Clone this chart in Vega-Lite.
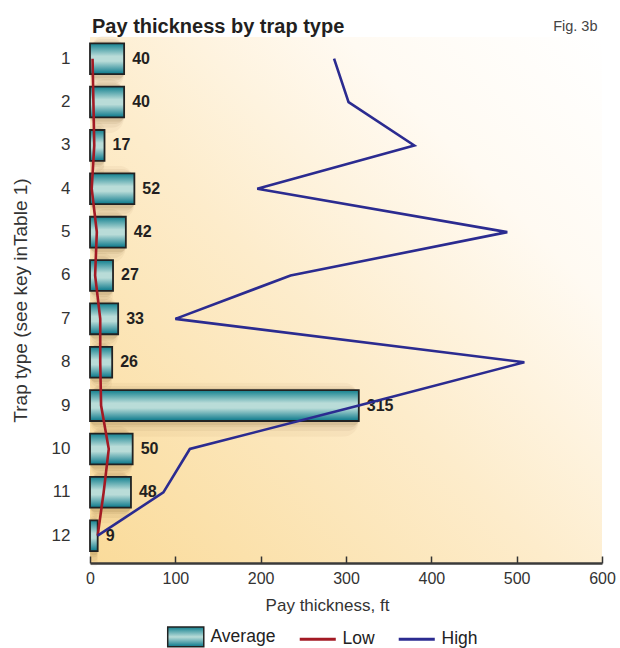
{
  "$schema": "https://vega.github.io/schema/vega-lite/v6.json",
  "width": 512,
  "height": 526,
  "autosize": {"type": "none"},
  "padding": {"left": 90, "top": 37, "right": 18, "bottom": 85},
  "background": "white",
  "view": {
    "stroke": null,
    "fill": {
      "gradient": "linear",
      "x1": 0, "y1": 1, "x2": 1, "y2": 0,
      "stops": [
        {"offset": 0, "color": "#fadb9a"},
        {"offset": 0.45, "color": "#fdeccb"},
        {"offset": 0.75, "color": "#fffaf2"},
        {"offset": 1, "color": "#ffffff"}
      ]
    }
  },
  "title": {
    "text": "Pay thickness by trap type",
    "anchor": "start",
    "frame": "group",
    "font": "Liberation Sans",
    "fontSize": 20,
    "fontWeight": "bold",
    "color": "#231f20",
    "offset": -19,
    "dx": 2
  },
  "data": {
    "values": [
      {"trap": 1, "Average": 40, "Low": 3, "High": 286},
      {"trap": 2, "Average": 40, "Low": 4, "High": 303},
      {"trap": 3, "Average": 17, "Low": 5, "High": 380},
      {"trap": 4, "Average": 52, "Low": 2, "High": 196},
      {"trap": 5, "Average": 42, "Low": 8, "High": 489},
      {"trap": 6, "Average": 27, "Low": 6, "High": 235},
      {"trap": 7, "Average": 33, "Low": 12, "High": 100},
      {"trap": 8, "Average": 26, "Low": 12, "High": 509},
      {"trap": 9, "Average": 315, "Low": 13, "High": 315},
      {"trap": 10, "Average": 50, "Low": 22, "High": 117},
      {"trap": 11, "Average": 48, "Low": 16, "High": 86},
      {"trap": 12, "Average": 9, "Low": 9, "High": 9}
    ]
  },
  "encoding": {
    "y": {
      "field": "trap",
      "type": "ordinal",
      "scale": {"paddingInner": 0, "paddingOuter": 0.065, "align": 0},
      "axis": {
        "title": "Trap type (see key inTable 1)",
        "labelAngle": 0,
        "ticks": false,
        "domain": false,
        "grid": false,
        "labelPadding": 20,
        "labelFont": "Liberation Sans",
        "labelFontSize": 17,
        "labelColor": "#333333",
        "titleFont": "Liberation Sans",
        "titleFontSize": 19,
        "titleFontWeight": "normal",
        "titleColor": "#333333",
        "titlePadding": 21
      }
    }
  },
  "layer": [
    {
      "mark": {"type": "bar", "fill": "#6b4a1e", "opacity": 0.045, "cornerRadius": 16, "height": {"band": 1.25}, "x2Offset": 30, "yOffset": 4},
      "encoding": {"x": {"field": "Average", "type": "quantitative", "scale": {"domain": [0, 600], "nice": false}, "axis": null}}
    },
    {
      "mark": {"type": "bar", "fill": "#6b4a1e", "opacity": 0.06, "cornerRadius": 12, "height": {"band": 1.05}, "x2Offset": 20, "yOffset": 3},
      "encoding": {"x": {"field": "Average", "type": "quantitative", "axis": null}}
    },
    {
      "mark": {"type": "bar", "fill": "#6b4a1e", "opacity": 0.08, "cornerRadius": 9, "height": {"band": 0.92}, "x2Offset": 13, "yOffset": 2},
      "encoding": {"x": {"field": "Average", "type": "quantitative", "axis": null}}
    },
    {
      "mark": {"type": "bar", "fill": "#6b4a1e", "opacity": 0.1, "cornerRadius": 6, "height": {"band": 0.82}, "x2Offset": 7, "yOffset": 2},
      "encoding": {"x": {"field": "Average", "type": "quantitative", "axis": null}}
    },
    {
      "mark": {
        "type": "bar",
        "height": {"band": 0.71},
        "strokeWidth": 1.8,
        "fill": {
          "gradient": "linear",
          "x1": 0, "y1": 0, "x2": 0, "y2": 1,
          "stops": [
            {"offset": 0, "color": "#12808f"},
            {"offset": 0.42, "color": "#b9dcd8"},
            {"offset": 0.58, "color": "#b9dcd8"},
            {"offset": 1, "color": "#08778a"}
          ]
        }
      },
      "encoding": {
        "x": {
          "field": "Average",
          "type": "quantitative",
          "axis": {
            "orient": "bottom",
            "title": "Pay thickness, ft",
            "values": [0, 100, 200, 300, 400, 500, 600],
            "grid": false,
            "labelFlush": false,
            "tickSize": -7,
            "tickWidth": 1.5,
            "tickColor": "#333333",
            "domainColor": "#3a3a3a",
            "domainWidth": 2.5,
            "labelPadding": 14,
            "labelFont": "Liberation Sans",
            "labelFontSize": 16,
            "labelColor": "#333333",
            "titleFont": "Liberation Sans",
            "titleFontSize": 17,
            "titleFontWeight": "normal",
            "titleColor": "#333333",
            "titlePadding": 11,
            "titleX": 237
          }
        },
        "stroke": {"datum": "Average"}
      }
    },
    {
      "mark": {
        "type": "text",
        "align": "left",
        "baseline": "middle",
        "dx": 8,
        "font": "Liberation Sans",
        "fontSize": 16,
        "fontWeight": "bold",
        "color": "#231f20"
      },
      "encoding": {
        "x": {
          "field": "Average",
          "type": "quantitative",
          "axis": {
            "orient": "top",
            "title": "Fig. 3b",
            "labels": false,
            "ticks": false,
            "domain": false,
            "grid": false,
            "titleX": 507,
            "titleY": -7,
            "titleAlign": "right",
            "titleBaseline": "alphabetic",
            "titleAnchor": "end",
            "titleFont": "Liberation Sans",
            "titleFontSize": 14.5,
            "titleFontWeight": "normal",
            "titleColor": "#444444"
          }
        },
        "text": {"field": "Average", "type": "quantitative"}
      }
    },
    {
      "transform": [{"fold": ["Low", "High"], "as": ["series", "value"]}],
      "mark": {"type": "line", "strokeWidth": 2.6, "strokeJoin": "miter"},
      "encoding": {
        "x": {"field": "value", "type": "quantitative", "axis": null},
        "order": {"field": "trap", "type": "quantitative"},
        "stroke": {
          "field": "series",
          "type": "nominal",
          "scale": {"domain": ["Average", "Low", "High"], "range": ["#222222", "#a31a24", "#2b2b90"]},
          "legend": {
            "orient": "none",
            "legendX": 87,
            "legendY": 591,
            "direction": "horizontal",
            "title": null,
            "symbolSize": 1300,
            "symbolStrokeWidth": 3,
            "labelFont": "Liberation Sans",
            "labelFontSize": 17.5,
            "labelColor": "#222222",
            "labelOffset": 16,
            "columnPadding": 17,
            "encode": {
              "symbols": {
                "update": {
                  "shape": {"signal": "datum.value === 'Average' ? 'M-1,-0.55H1V0.55H-1Z' : 'stroke'"},
                  "fill": {"signal": "datum.value === 'Average' ? {gradient: 'linear', x1: 0, y1: 0, x2: 0, y2: 1, stops: [{offset: 0, color: '#12808f'}, {offset: 0.5, color: '#b9dcd8'}, {offset: 1, color: '#08778a'}]} : 'transparent'"},
                  "strokeWidth": {"signal": "datum.value === 'Average' ? 1.5 : 3"},
                  "opacity": {"value": 1}
                }
              }
            }
          }
        }
      }
    }
  ],
  "resolve": {"axis": {"x": "independent"}}
}
